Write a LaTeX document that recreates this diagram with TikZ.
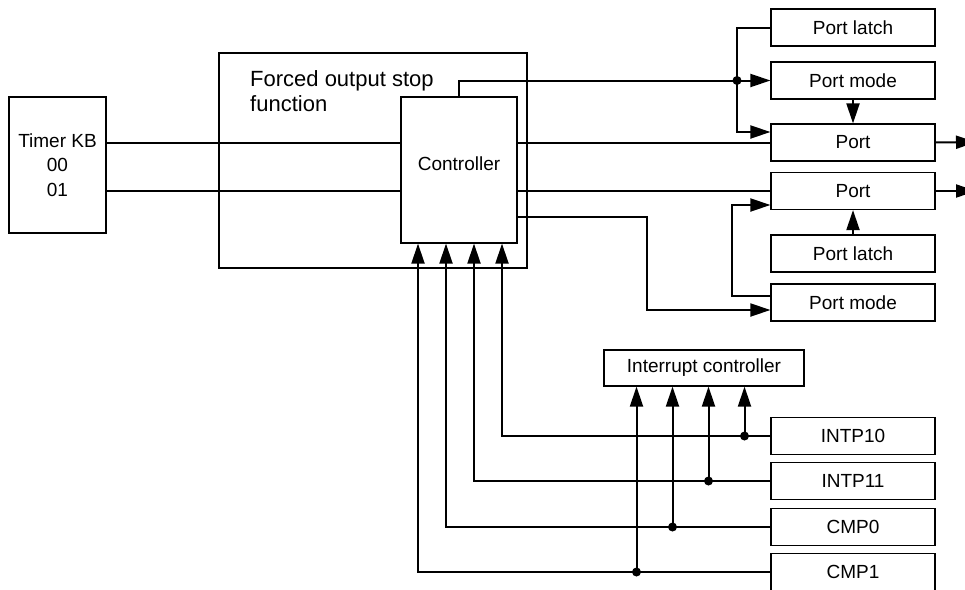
\documentclass[tikz,border=0pt]{standalone}
\usepackage{fontspec}
\setmainfont{Liberation Sans}
\usetikzlibrary{arrows.meta}

\begin{document}
\begin{tikzpicture}[x=1pt,y=-1pt]
\tikzstyle{blk} = [draw,line width=1.2pt,minimum width=164pt,minimum height=37pt,inner sep=0pt,font=\fontsize{19}{23}\selectfont] %boites
\tikzstyle{wire} = [line width=2pt]
\tikzstyle{arr} = [wire,-{Triangle[length=20pt,width=13pt]}]
\tikzstyle{jdot} = [circle,fill,inner sep=0pt,minimum size=9pt]
\useasboundingbox (0,0) rectangle (965,589);
\clip (0,0) rectangle (965,589);
%blocs de gauche
\node[blk,minimum width=97pt,minimum height=136pt,align=center,font=\fontsize{19}{24.5}\selectfont] (timer) at (57.5,165) {Timer KB\\00\\01};
\node[blk,minimum width=308pt,minimum height=215pt] (fos) at (373,160.5) {};
\node[anchor=west,inner sep=0pt,align=left,font=\fontsize{22}{25}\selectfont] (fostxt) at (250,91.5) {Forced output stop\\function};
\node[blk,minimum width=116pt,minimum height=146pt] (ctrl) at (459,170) {};
\node[font=\fontsize{19}{23}\selectfont] (ctrltxt) at (459,164) {Controller};
%blocs de droite
\node[blk] (latchA) at (853,27.5) {Port latch};
\node[blk] (modeA) at (853,80.5) {Port mode};
\node[blk] (portA) at (853,142.5) {Port};
\node[blk] (portB) at (853,191) {Port};
\node[blk] (latchB) at (853,253.5) {Port latch};
\node[blk] (modeB) at (853,302.5) {Port mode};
%interruptions
\node[blk,minimum width=200pt,minimum height=36pt] (ic) at (704,368) {Interrupt controller};
\node[blk] (intpA) at (853,436) {INTP10};
\node[blk] (intpB) at (853,481) {INTP11};
\node[blk] (cmpA) at (853,527) {CMP0};
\node[blk] (cmpB) at (853,572) {CMP1};
\coordinate (jA) at (737,80.5);
\coordinate (outA) at (976,142);
\coordinate (outB) at (976,191);
%liaisons du haut
\draw[wire] (timer.east |- portA.west) -- (ctrl.west |- portA.west);
\draw[wire] (timer.east |- portB.west) -- (ctrl.west |- portB.west);
\draw[wire] (ctrl.east |- portA.west) -- (portA.west);
\draw[wire] (ctrl.east |- portB.west) -- (portB.west);
\draw[arr] (ctrl.north) |- (modeA.west);
\draw[arr] (latchA.west) -| (jA) |- ([yshift=10.5pt]portA.west);
\node[jdot] (dA) at (jA) {};
\draw[arr] (modeA.south) -- (portA.north);
\draw[arr] (latchB.north) -- (portB.south);
\draw[arr] (portA.east) -- (outA);
\draw[arr] (portB.east) -- (outB);
\draw[arr] ([yshift=6.5pt]modeB.west) -- ++(-38,0) |- ([yshift=-14pt]portB.west);
\draw[arr] ([yshift=-47pt]ctrl.east) -- ++(129,0) |- ([yshift=-7.5pt]modeB.west);
%liaisons du bas
\foreach \n/\dx/\ix in {intpA/43/40.5,intpB/15/4.5,cmpA/-13/-31.5,cmpB/-41/-67.5}{
  \draw[arr] (\n.west) -| ([xshift=\dx pt]ctrl.south);
  \node[jdot] (d\n) at ([xshift=\ix pt]ic.south |- \n.west) {};
  \draw[arr] (d\n.center) -- ([xshift=\ix pt]ic.south);
}
\end{tikzpicture}
\end{document}
